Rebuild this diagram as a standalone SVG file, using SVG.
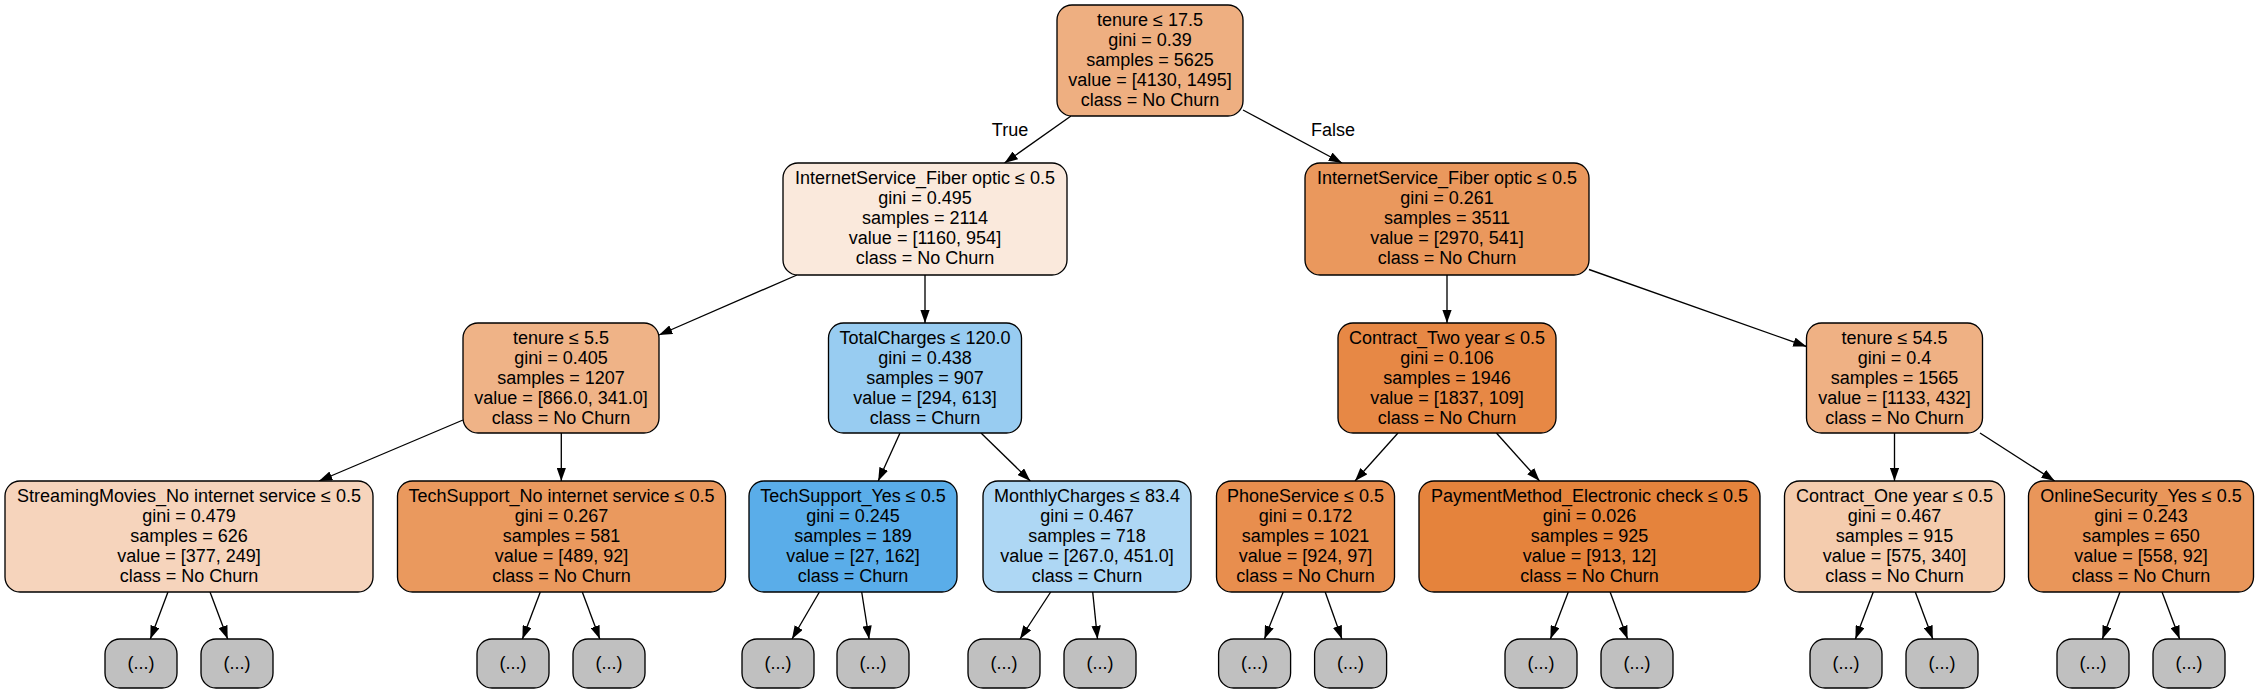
<svg xmlns="http://www.w3.org/2000/svg" width="2259" height="693" viewBox="0 0 2259 693">
<style>
text{font-family:"Liberation Sans",Arial,Helvetica,sans-serif;font-size:18px;fill:#000;text-anchor:middle}
.n{stroke:#000;stroke-width:1.33}
.lf{fill:#c0c0c0;stroke:#000;stroke-width:1.33}
.e line{stroke:#000;stroke-width:1.33;marker-end:url(#ah)}
</style>
<defs>
<marker id="ah" markerUnits="userSpaceOnUse" viewBox="0 0 13.3 9.4" refX="13.3" refY="4.7" markerWidth="13.3" markerHeight="9.4" orient="auto">
<path d="M0,0 L13.3,4.7 L0,9.4 Z" fill="#000"/>
</marker>
</defs>
<rect width="2259" height="693" fill="#fff"/>
<g class="e" id="edges">
<line x1="1071" y1="116" x2="1004.5" y2="163"/>
<line x1="1243" y1="110" x2="1342" y2="163"/>
<line x1="797" y1="275" x2="659" y2="335"/>
<line x1="925" y1="275" x2="925" y2="323"/>
<line x1="1447" y1="275" x2="1447" y2="323"/>
<line x1="1589" y1="269.5" x2="1806.5" y2="346.5"/>
<line x1="463" y1="420" x2="319" y2="481"/>
<line x1="561.3" y1="433" x2="561.3" y2="481"/>
<line x1="900" y1="433" x2="878.2" y2="481"/>
<line x1="981" y1="433" x2="1030.3" y2="481"/>
<line x1="1398" y1="433" x2="1355" y2="481"/>
<line x1="1496.4" y1="433" x2="1539.6" y2="481"/>
<line x1="1894.5" y1="433" x2="1894.5" y2="481"/>
<line x1="1980" y1="433" x2="2054.7" y2="481"/>
<line x1="168" y1="592" x2="150.3" y2="639"/>
<line x1="210" y1="592" x2="227.7" y2="639"/>
<line x1="540.3" y1="592" x2="522.4" y2="639"/>
<line x1="582.3" y1="592" x2="599.8" y2="639"/>
<line x1="819.4" y1="592" x2="792" y2="639"/>
<line x1="861.7" y1="592" x2="869.1" y2="639"/>
<line x1="1050.7" y1="592" x2="1020" y2="639"/>
<line x1="1092.7" y1="592" x2="1097.5" y2="639"/>
<line x1="1283.2" y1="592" x2="1264.4" y2="639"/>
<line x1="1325.2" y1="592" x2="1341.9" y2="639"/>
<line x1="1568.3" y1="592" x2="1550.4" y2="639"/>
<line x1="1610.1" y1="592" x2="1627.6" y2="639"/>
<line x1="1873.3" y1="592" x2="1855.4" y2="639"/>
<line x1="1915.3" y1="592" x2="1932.8" y2="639"/>
<line x1="2120" y1="592" x2="2102.3" y2="639"/>
<line x1="2162" y1="592" x2="2179.7" y2="639"/>
<text x="1010" y="136">True</text>
<text x="1333" y="136">False</text>
</g>
<g id="n0"><rect class="n" x="1057" y="5" width="186" height="111" rx="15" fill="#eeaf81"/>
<text x="1150" y="26">tenure ≤ 17.5</text><text x="1150" y="46">gini = 0.39</text><text x="1150" y="66">samples = 5625</text><text x="1150" y="86">value = [4130, 1495]</text><text x="1150" y="106">class = No Churn</text></g>
<g id="n1"><rect class="n" x="783" y="163" width="284" height="112" rx="15" fill="#fae9dc"/>
<text x="925" y="184">InternetService_Fiber optic ≤ 0.5</text><text x="925" y="204">gini = 0.495</text><text x="925" y="224">samples = 2114</text><text x="925" y="244">value = [1160, 954]</text><text x="925" y="264">class = No Churn</text></g>
<g id="n2"><rect class="n" x="1305" y="163" width="284" height="112" rx="15" fill="#ea985d"/>
<text x="1447" y="184">InternetService_Fiber optic ≤ 0.5</text><text x="1447" y="204">gini = 0.261</text><text x="1447" y="224">samples = 3511</text><text x="1447" y="244">value = [2970, 541]</text><text x="1447" y="264">class = No Churn</text></g>
<g id="n3"><rect class="n" x="463" y="323" width="196" height="110" rx="15" fill="#efb387"/>
<text x="561" y="344">tenure ≤ 5.5</text><text x="561" y="364">gini = 0.405</text><text x="561" y="384">samples = 1207</text><text x="561" y="404">value = [866.0, 341.0]</text><text x="561" y="424">class = No Churn</text></g>
<g id="n4"><rect class="n" x="828.5" y="323" width="193" height="110" rx="15" fill="#98ccf1"/>
<text x="925" y="344">TotalCharges ≤ 120.0</text><text x="925" y="364">gini = 0.438</text><text x="925" y="384">samples = 907</text><text x="925" y="404">value = [294, 613]</text><text x="925" y="424">class = Churn</text></g>
<g id="n5"><rect class="n" x="1338" y="323" width="218" height="110" rx="15" fill="#e78845"/>
<text x="1447" y="344">Contract_Two year ≤ 0.5</text><text x="1447" y="364">gini = 0.106</text><text x="1447" y="384">samples = 1946</text><text x="1447" y="404">value = [1837, 109]</text><text x="1447" y="424">class = No Churn</text></g>
<g id="n6"><rect class="n" x="1806.5" y="323" width="176" height="110" rx="15" fill="#efb184"/>
<text x="1894.5" y="344">tenure ≤ 54.5</text><text x="1894.5" y="364">gini = 0.4</text><text x="1894.5" y="384">samples = 1565</text><text x="1894.5" y="404">value = [1133, 432]</text><text x="1894.5" y="424">class = No Churn</text></g>
<g id="n7"><rect class="n" x="5" y="481" width="368" height="111" rx="15" fill="#f6d4bc"/>
<text x="189" y="502">StreamingMovies_No internet service ≤ 0.5</text><text x="189" y="522">gini = 0.479</text><text x="189" y="542">samples = 626</text><text x="189" y="562">value = [377, 249]</text><text x="189" y="582">class = No Churn</text></g>
<g id="n8"><rect class="n" x="397.5" y="481" width="328" height="111" rx="15" fill="#ea995e"/>
<text x="561.5" y="502">TechSupport_No internet service ≤ 0.5</text><text x="561.5" y="522">gini = 0.267</text><text x="561.5" y="542">samples = 581</text><text x="561.5" y="562">value = [489, 92]</text><text x="561.5" y="582">class = No Churn</text></g>
<g id="n9"><rect class="n" x="749" y="481" width="208" height="111" rx="15" fill="#5aade9"/>
<text x="853" y="502">TechSupport_Yes ≤ 0.5</text><text x="853" y="522">gini = 0.245</text><text x="853" y="542">samples = 189</text><text x="853" y="562">value = [27, 162]</text><text x="853" y="582">class = Churn</text></g>
<g id="n10"><rect class="n" x="983" y="481" width="208" height="111" rx="15" fill="#aed7f4"/>
<text x="1087" y="502">MonthlyCharges ≤ 83.4</text><text x="1087" y="522">gini = 0.467</text><text x="1087" y="542">samples = 718</text><text x="1087" y="562">value = [267.0, 451.0]</text><text x="1087" y="582">class = Churn</text></g>
<g id="n11"><rect class="n" x="1216.5" y="481" width="178" height="111" rx="15" fill="#e88e4e"/>
<text x="1305.5" y="502">PhoneService ≤ 0.5</text><text x="1305.5" y="522">gini = 0.172</text><text x="1305.5" y="542">samples = 1021</text><text x="1305.5" y="562">value = [924, 97]</text><text x="1305.5" y="582">class = No Churn</text></g>
<g id="n12"><rect class="n" x="1419" y="481" width="341" height="111" rx="15" fill="#e5833c"/>
<text x="1589.5" y="502">PaymentMethod_Electronic check ≤ 0.5</text><text x="1589.5" y="522">gini = 0.026</text><text x="1589.5" y="542">samples = 925</text><text x="1589.5" y="562">value = [913, 12]</text><text x="1589.5" y="582">class = No Churn</text></g>
<g id="n13"><rect class="n" x="1784.5" y="481" width="220" height="111" rx="15" fill="#f4ccae"/>
<text x="1894.5" y="502">Contract_One year ≤ 0.5</text><text x="1894.5" y="522">gini = 0.467</text><text x="1894.5" y="542">samples = 915</text><text x="1894.5" y="562">value = [575, 340]</text><text x="1894.5" y="582">class = No Churn</text></g>
<g id="n14"><rect class="n" x="2028.5" y="481" width="225" height="111" rx="15" fill="#e9965a"/>
<text x="2141" y="502">OnlineSecurity_Yes ≤ 0.5</text><text x="2141" y="522">gini = 0.243</text><text x="2141" y="542">samples = 650</text><text x="2141" y="562">value = [558, 92]</text><text x="2141" y="582">class = No Churn</text></g>
<g id="l1"><rect class="lf" x="105" y="639" width="72" height="49" rx="15"/><text x="141" y="669">(...)</text></g>
<g id="l2"><rect class="lf" x="201" y="639" width="72" height="49" rx="15"/><text x="237" y="669">(...)</text></g>
<g id="l3"><rect class="lf" x="477" y="639" width="72" height="49" rx="15"/><text x="513" y="669">(...)</text></g>
<g id="l4"><rect class="lf" x="573" y="639" width="72" height="49" rx="15"/><text x="609" y="669">(...)</text></g>
<g id="l5"><rect class="lf" x="742" y="639" width="72" height="49" rx="15"/><text x="778" y="669">(...)</text></g>
<g id="l6"><rect class="lf" x="837" y="639" width="72" height="49" rx="15"/><text x="873" y="669">(...)</text></g>
<g id="l7"><rect class="lf" x="968" y="639" width="72" height="49" rx="15"/><text x="1004" y="669">(...)</text></g>
<g id="l8"><rect class="lf" x="1064" y="639" width="72" height="49" rx="15"/><text x="1100" y="669">(...)</text></g>
<g id="l9"><rect class="lf" x="1218.6" y="639" width="72" height="49" rx="15"/><text x="1254.6" y="669">(...)</text></g>
<g id="l10"><rect class="lf" x="1314.6" y="639" width="72" height="49" rx="15"/><text x="1350.6" y="669">(...)</text></g>
<g id="l11"><rect class="lf" x="1505" y="639" width="72" height="49" rx="15"/><text x="1541" y="669">(...)</text></g>
<g id="l12"><rect class="lf" x="1601" y="639" width="72" height="49" rx="15"/><text x="1637" y="669">(...)</text></g>
<g id="l13"><rect class="lf" x="1810" y="639" width="72" height="49" rx="15"/><text x="1846" y="669">(...)</text></g>
<g id="l14"><rect class="lf" x="1906" y="639" width="72" height="49" rx="15"/><text x="1942" y="669">(...)</text></g>
<g id="l15"><rect class="lf" x="2057" y="639" width="72" height="49" rx="15"/><text x="2093" y="669">(...)</text></g>
<g id="l16"><rect class="lf" x="2153" y="639" width="72" height="49" rx="15"/><text x="2189" y="669">(...)</text></g>
</svg>
